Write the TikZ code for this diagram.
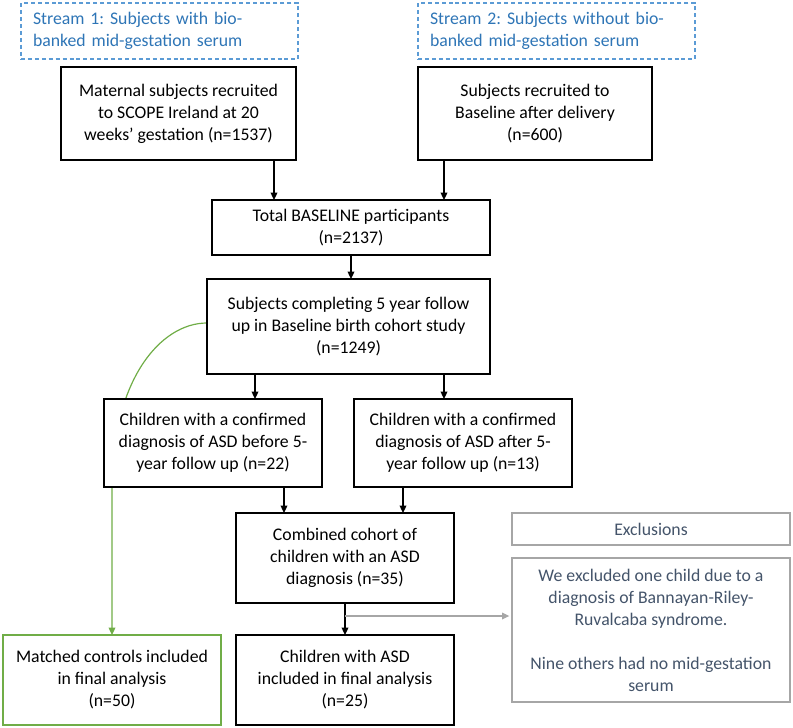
\documentclass[tikz,border=0pt]{standalone}
\usepackage{fontspec}
\setmainfont{Carlito}
\frenchspacing
\usepackage{tikz}
\usetikzlibrary{positioning}
\usetikzlibrary{arrows.meta}
\usetikzlibrary{backgrounds}

\definecolor{strmblue}{HTML}{2E75B6}
\definecolor{strmline}{HTML}{5B9BD5}
\definecolor{exclgray}{HTML}{A6A6A6}
\definecolor{excltext}{HTML}{44546A}
\definecolor{ctrlgreen}{HTML}{70AD47}

\begin{document}
\begin{tikzpicture}
[x=0.75pt,y=-0.75pt,>={Triangle[length=5.5pt,width=5pt]},
  font=\fontsize{13.3}{16.5}\selectfont,
  rect node/.style={rectangle,draw,line width=1.2pt,fill=white,
    align=center,minimum width=163.5pt,minimum height=66pt,
    inner sep=0pt,outer sep=0pt},
  strm node/.style={rectangle,draw=strmline,dash pattern=on 3pt off 2.2pt,
    line width=1.1pt,text=strmblue,align=left,text width=189.75pt,
    minimum height=42pt,inner xsep=9pt,inner ysep=0pt,outer sep=0pt},
  excl node/.style={rectangle,draw=exclgray,line width=1.1pt,fill=white,
    text=excltext,align=center,minimum width=208.5pt,
    inner sep=0pt,outer sep=0pt},
  link/.style={->,line width=0.9pt},
  gray link/.style={->,line width=0.9pt,draw=exclgray,shorten >=2pt},
  green link/.style={->,line width=0.9pt,draw=ctrlgreen}]

    \useasboundingbox (0,0) rectangle (793,728);

    % two recruitment streams
    \node [strm node, anchor=north west] (s1) at (21,3) {Stream 1: Subjects with bio-\\banked mid-gestation serum};
    \node [strm node] (s2) [right=90pt of s1] {Stream 2: Subjects without bio-\\banked mid-gestation serum};

    \node [rect node, minimum width=176.25pt, minimum height=69.75pt] (mat) [below right=6pt and 30pt of s1.south west] {Maternal subjects recruited\\to SCOPE Ireland at 20\\weeks’ gestation (n=1537)};
    \node [rect node, minimum width=175.5pt, minimum height=69.75pt] (sub) [below right=6pt and 0pt of s2.south west] {Subjects recruited to\\Baseline after delivery\\(n=600)};

    \node [rect node, minimum width=208.5pt, minimum height=41.25pt] (tot) [below right=30pt and 113.25pt of mat.south west] {Total BASELINE participants\\(n=2137)};
    \node [rect node, minimum width=212.25pt, minimum height=71.25pt] (fol) [below right=18pt and -3.75pt of tot.south west] {Subjects completing 5 year follow\\up in Baseline birth cohort study\\(n=1249)};

    % ASD groups
    \node [rect node] (bef) [below right=18.75pt and -77.25pt of fol.south west] {Children with a confirmed\\diagnosis of ASD before 5-\\year follow up (n=22)};
    \node [rect node] (aft) [right=24pt of bef] {Children with a confirmed\\diagnosis of ASD after 5-\\year follow up (n=13)};

    \node [rect node, minimum height=67.5pt] (com) [below right=19.5pt and 99pt of bef.south west] {Combined cohort of\\children with an ASD\\diagnosis (n=35)};
    \node [rect node, minimum height=67.5pt] (asd) [below=24pt of com] {Children with ASD\\included in final analysis\\(n=25)};
    \node [rect node, draw=ctrlgreen, minimum height=67.5pt] (ctl) [left=11.25pt of asd] {Matched controls included\\in final analysis\\(n=50)};

    % exclusions
    \node [excl node, minimum height=24pt] (exh) [below right=0pt and 43.5pt of com.north east] {Exclusions};
    \node [excl node, minimum height=108pt] (ext) [below=9.75pt of exh] {We excluded one child due to a\\diagnosis of Bannayan-Riley-\\Ruvalcaba syndrome.\\[16.5pt]Nine others had no mid-gestation\\serum};

    \coordinate (t1) at ([xshift=46.5pt]tot.north west);
    \coordinate (t2) at ([xshift=174pt]tot.north west);
    \coordinate (f1) at ([xshift=36pt]fol.south west);
    \coordinate (f2) at ([xshift=177.75pt]fol.south west);
    \coordinate (c1) at ([xshift=36pt]com.north west);
    \coordinate (c2) at ([xshift=125.25pt]com.north west);
    \coordinate (g0) at ([yshift=-9.75pt]com.south);
    \coordinate (gs) at ([yshift=-33pt]fol.north west);

    \begin{scope}[on background layer]
    \draw[link] (mat.south -| t1) -- (t1);
    \draw[link] (sub.south -| t2) -- (t2);
    \draw[link] (tot.south) -- (tot.south |- fol.north);
    \draw[link] (f1) -- (f1 |- bef.north);
    \draw[link] (f2) -- (f2 |- aft.north);
    \draw[link] (c1 |- bef.south) -- (c1);
    \draw[link] (c2 |- aft.south) -- (c2);
    \draw[link] (com.south) -- (asd.north);
    \draw[gray link] (g0) -- (g0 -| ext.west);
    \draw[green link] (gs) .. controls +(-35pt,0pt) and +(0pt,80pt) .. (ctl.north |- bef.south) -- (ctl.north);
    \end{scope}
\end{tikzpicture}
\end{document}
